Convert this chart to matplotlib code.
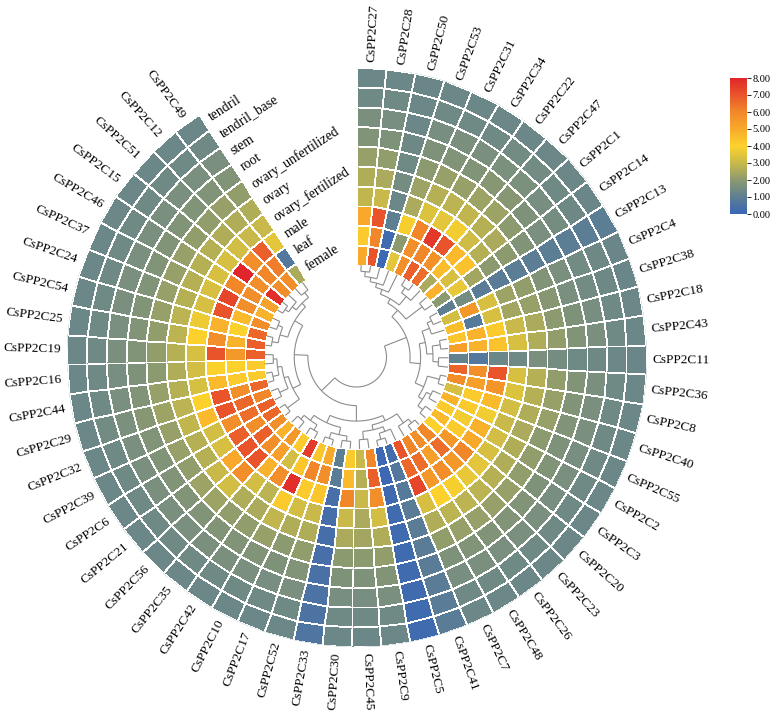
import numpy as np
import matplotlib.pyplot as plt
from matplotlib.colors import LinearSegmentedColormap, Normalize

plt.rcParams['font.family'] = ['Liberation Serif', 'DejaVu Serif']

# gene order around the circle (clockwise from the top)
genes = ['CsPP2C27', 'CsPP2C28', 'CsPP2C50', 'CsPP2C53', 'CsPP2C31', 'CsPP2C34', 'CsPP2C22', 'CsPP2C47',
         'CsPP2C1', 'CsPP2C14', 'CsPP2C13', 'CsPP2C4', 'CsPP2C38', 'CsPP2C18', 'CsPP2C43', 'CsPP2C11',
         'CsPP2C36', 'CsPP2C8', 'CsPP2C40', 'CsPP2C55', 'CsPP2C2', 'CsPP2C3', 'CsPP2C20', 'CsPP2C23',
         'CsPP2C26', 'CsPP2C48', 'CsPP2C7', 'CsPP2C41', 'CsPP2C5', 'CsPP2C9', 'CsPP2C45', 'CsPP2C30',
         'CsPP2C33', 'CsPP2C52', 'CsPP2C17', 'CsPP2C10', 'CsPP2C42', 'CsPP2C35', 'CsPP2C56', 'CsPP2C21',
         'CsPP2C6', 'CsPP2C39', 'CsPP2C32', 'CsPP2C29', 'CsPP2C44', 'CsPP2C16', 'CsPP2C19', 'CsPP2C25',
         'CsPP2C54', 'CsPP2C24', 'CsPP2C37', 'CsPP2C46', 'CsPP2C15', 'CsPP2C51', 'CsPP2C12', 'CsPP2C49']

# rings from the inside out
tissues = ['female', 'leaf', 'male', 'ovary_fertilized', 'ovary', 'ovary_unfertilized',
           'root', 'stem', 'tendril_base', 'tendril']

female = [5.0, 7.0, 0.1, 3.5, 5.8, 6.8, 6.5, 2.5, 4.8, 2.0,
          1.0, 3.2, 4.5, 4.3, 5.3, 1.1, 6.7, 5.8, 3.3, 4.8,
          4.2, 4.6, 4.0, 6.0, 5.8, 6.0, 7.0, 0.3, 0.1, 6.0,
          3.0, 4.2, 1.0, 5.0, 4.3, 7.5, 4.2, 5.5, 4.8, 5.8,
          6.6, 6.8, 6.0, 6.6, 4.2, 4.2, 6.8, 6.8, 6.6, 5.8,
          4.8, 5.2, 7.8, 5.8, 5.8, 2.5]
leaf = [4.2, 6.0, 0.2, 2.0, 5.8, 6.0, 5.7, 4.5, 3.3, 3.6,
        1.5, 5.5, 0.8, 4.8, 4.8, 0.7, 5.8, 5.3, 4.2, 4.2,
        3.8, 4.2, 5.5, 6.5, 5.3, 6.5, 6.6, 0.7, 0.1, 6.8,
        2.7, 4.6, 0.9, 5.8, 6.0, 4.3, 3.2, 5.3, 5.8, 6.8,
        5.8, 6.5, 6.6, 5.8, 4.2, 4.0, 5.5, 4.8, 4.0, 4.6,
        5.8, 5.8, 5.8, 6.0, 6.2, 0.7]
male = [5.0, 7.0, 1.0, 3.9, 6.0, 7.6, 7.0, 4.6, 4.4, 2.4,
        0.9, 3.3, 3.3, 4.2, 4.4, 1.3, 7.0, 5.6, 4.6, 3.8,
        4.8, 5.0, 6.0, 5.5, 5.8, 5.5, 7.3, 0.8, 0.15, 5.8,
        3.0, 6.0, 0.4, 4.3, 4.2, 7.8, 5.8, 4.8, 7.0, 7.0,
        6.8, 5.8, 7.0, 7.0, 4.6, 4.0, 7.0, 5.8, 4.8, 7.0,
        7.3, 6.0, 8.0, 5.8, 6.8, 3.5]
ovary_fertilized = [2.9, 3.0, 1.3, 2.5, 3.4, 3.5, 3.8, 3.1, 2.7, 2.0,
                    0.9, 2.3, 2.4, 3.0, 3.3, 1.4, 3.3, 3.4, 3.2, 3.0,
                    3.2, 3.3, 3.5, 3.6, 3.9, 4.0, 3.3, 0.9, 0.2, 3.2,
                    2.5, 3.0, 0.35, 3.0, 3.2, 4.2, 2.8, 3.2, 5.8, 5.0,
                    3.3, 3.2, 4.6, 4.0, 3.3, 3.2, 3.3, 4.0, 3.7, 3.3,
                    3.3, 3.3, 3.3, 3.2, 3.0, 3.0]
ovary = [2.6, 2.5, 1.5, 2.3, 2.7, 2.8, 2.9, 2.7, 2.5, 2.0,
         0.95, 2.1, 2.2, 2.5, 2.6, 1.6, 2.7, 2.7, 2.6, 2.5,
         2.6, 2.6, 2.7, 2.8, 2.8, 2.8, 2.6, 0.9, 0.2, 2.6,
         2.4, 2.5, 0.35, 2.6, 2.6, 2.9, 2.5, 2.6, 3.2, 3.0,
         2.7, 2.7, 2.9, 2.8, 2.7, 2.6, 2.7, 2.8, 2.8, 2.7,
         2.7, 2.7, 2.7, 2.6, 2.6, 2.6]
ovary_unfertilized = [2.2, 2.1, 1.4, 2.0, 2.2, 2.2, 2.3, 2.3, 2.0, 1.8,
                      0.95, 1.8, 1.9, 2.0, 2.1, 1.5, 2.1, 2.2, 2.2, 2.0,
                      2.1, 2.1, 2.2, 2.2, 2.2, 2.2, 2.1, 0.9, 0.2, 2.1,
                      2.0, 2.0, 0.4, 2.1, 2.0, 2.2, 2.1, 2.1, 2.3, 2.3,
                      2.1, 2.2, 2.2, 2.3, 2.2, 2.0, 2.1, 2.1, 2.2, 2.2,
                      2.2, 2.2, 2.1, 2.1, 2.2, 2.1]
root = [1.8, 1.7, 1.35, 1.7, 1.8, 1.8, 1.9, 1.9, 1.7, 1.6,
        0.95, 1.6, 1.6, 1.7, 1.8, 1.4, 1.8, 1.8, 1.8, 1.7,
        1.8, 1.7, 1.8, 1.8, 1.8, 1.8, 1.7, 0.9, 0.2, 1.8,
        1.7, 1.7, 0.45, 1.8, 1.7, 1.8, 1.8, 1.8, 1.8, 1.8,
        1.8, 1.8, 1.8, 1.9, 1.8, 1.7, 1.8, 1.8, 1.8, 1.8,
        1.8, 1.8, 1.8, 1.8, 1.8, 1.8]
stem = [1.6, 1.55, 1.3, 1.55, 1.6, 1.6, 1.65, 1.65, 1.55, 1.5,
        0.95, 1.45, 1.45, 1.55, 1.6, 1.35, 1.6, 1.6, 1.6, 1.55,
        1.6, 1.55, 1.6, 1.6, 1.6, 1.6, 1.55, 0.9, 0.2, 1.6,
        1.55, 1.55, 0.5, 1.6, 1.55, 1.6, 1.6, 1.6, 1.6, 1.6,
        1.6, 1.6, 1.6, 1.65, 1.6, 1.55, 1.6, 1.6, 1.6, 1.6,
        1.6, 1.6, 1.6, 1.6, 1.6, 1.6]
tendril_base = [1.4, 1.4, 1.3, 1.4, 1.4, 1.4, 1.45, 1.45, 1.4, 1.35,
                0.95, 1.35, 1.35, 1.4, 1.4, 1.3, 1.4, 1.4, 1.4, 1.4,
                1.4, 1.4, 1.4, 1.4, 1.4, 1.4, 1.4, 0.9, 0.2, 1.4,
                1.4, 1.4, 0.55, 1.4, 1.4, 1.4, 1.4, 1.4, 1.4, 1.4,
                1.4, 1.4, 1.4, 1.45, 1.4, 1.4, 1.4, 1.4, 1.4, 1.4,
                1.4, 1.4, 1.4, 1.4, 1.4, 1.4]
tendril = [1.3, 1.3, 1.25, 1.3, 1.3, 1.3, 1.3, 1.3, 1.3, 1.25,
           0.95, 1.25, 1.25, 1.3, 1.3, 1.25, 1.3, 1.3, 1.3, 1.3,
           1.3, 1.3, 1.3, 1.3, 1.3, 1.3, 1.3, 0.9, 0.2, 1.3,
           1.3, 1.3, 0.6, 1.3, 1.3, 1.3, 1.3, 1.3, 1.3, 1.3,
           1.3, 1.3, 1.3, 1.3, 1.3, 1.3, 1.3, 1.3, 1.3, 1.3,
           1.3, 1.3, 1.3, 1.3, 1.3, 1.3]

# clustering tree: (left, right, height), leaves are gene positions
a_top = (((((0, 1, 0.10), 2, 0.18), 3, 0.25), 4, 0.32), ((5, 6, 0.12), 7, 0.22), 0.40)
a1 = (a_top, (8, 9, 0.15), 0.48)
a2 = (((10, 11, 0.14), 12, 0.22), ((13, 14, 0.12), (15, 16, 0.16), 0.25), 0.35)
a3 = ((17, 18, 0.10), ((19, 20, 0.14), (21, 22, 0.12), 0.22), 0.30)
clade_a = (a1, (a2, a3, 0.45), 0.62)
b1 = (((23, 24, 0.10), 25, 0.18), ((26, (27, 28, 0.10), 0.20), (29, 30, 0.15), 0.28), 0.36)
b2 = (((31, 32, 0.12), (33, 34, 0.10), 0.20), ((35, 36, 0.12), (37, 38, 0.14), 0.22), 0.32)
b3 = ((39, 40, 0.10), ((41, 42, 0.12), ((43, 44, 0.10), (45, 46, 0.14), 0.20), 0.27), 0.34)
b4 = (((47, 48, 0.10), (49, 50, 0.12), 0.20), (((51, 52, 0.10), 53, 0.17), (54, 55, 0.15), 0.25), 0.33)
clade_b = ((b1, b2, 0.45), (b3, b4, 0.48), 0.70)
tree = (clade_a, clade_b, 1.0)

data = np.array([female, leaf, male, ovary_fertilized, ovary, ovary_unfertilized,
                 root, stem, tendril_base, tendril])

cmap = LinearSegmentedColormap.from_list(
    'byr', [(0 / 8, '#3a66b6'), (1 / 8, '#5e7f92'), (2 / 8, '#8c9a70'), (3 / 8, '#c8b94a'),
            (4 / 8, '#fcd22c'), (5 / 8, '#f8aa2b'), (6 / 8, '#f2882a'), (7 / 8, '#e9552a'),
            (8 / 8, '#e0262a')])
norm = Normalize(0, 8)

n = len(genes)
step = np.deg2rad(327.0 / n)
theta_edges = np.arange(n + 1) * step
r_root, r_in, r_out = 30, 92, 290
r_edges = np.linspace(r_in, r_out, len(tissues) + 1)

fig = plt.figure(figsize=(7.77, 7.13), dpi=100)
ax = fig.add_axes([66.5 / 777, 66 / 713, 580 / 777, 580 / 713], projection='polar')
ax.set_theta_zero_location('N')
ax.set_theta_direction(-1)
ax.set_ylim(0, r_out)
ax.axis('off')

mesh = ax.pcolormesh(theta_edges, r_edges, data, cmap=cmap, norm=norm,
                     edgecolors='white', linewidth=0.6)

# dendrogram
line_kw = dict(color='#8c8c8c', lw=0.8, solid_capstyle='butt')


def draw(node):
    if isinstance(node, int):
        return (node + 0.5) * step, r_in
    left, right, h = node
    t1, r1 = draw(left)
    t2, r2 = draw(right)
    r = r_in - h * (r_in - r_root)
    ax.plot([t1, t1], [r1, r], **line_kw)
    ax.plot([t2, t2], [r2, r], **line_kw)
    arc = np.linspace(t1, t2, 60)
    ax.plot(arc, np.full_like(arc, r), **line_kw)
    return (t1 + t2) / 2, r


draw(tree)

# gene labels
for i, g in enumerate(genes):
    tc = (i + 0.5) * step
    a = 90 - np.rad2deg(tc)
    if a >= -90:
        rot, ha = a, 'left'
    else:
        rot, ha = a + 180, 'right'
    ax.text(tc, r_out + 6, g, rotation=rot, rotation_mode='anchor',
            ha=ha, va='center', fontsize=9.5)

# tissue labels in the gap
edge = n * step
for k, t in enumerate(tissues):
    rc = (r_edges[k] + r_edges[k + 1]) / 2
    ax.text(edge + 7 / rc, rc, t, rotation=360 - np.rad2deg(edge), rotation_mode='anchor',
            ha='left', va='center', fontsize=9.8)

cax = fig.add_axes([730 / 777, (713 - 214) / 713, 17 / 777, 136 / 713])
cb = fig.colorbar(mesh, cax=cax, ticks=np.arange(0, 9))
cb.ax.set_yticklabels([f'{v:.2f}' for v in range(9)], family='Liberation Serif')
cb.outline.set_visible(False)
cb.ax.tick_params(labelsize=7.5, length=3, width=0.6, pad=1)

fig.savefig('out.png', dpi=100)
